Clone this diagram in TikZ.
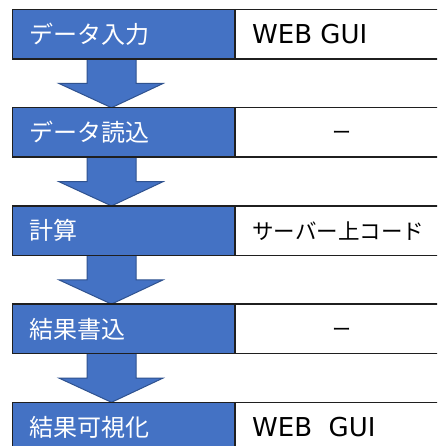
\documentclass[tikz,border=0pt]{standalone}
\usepackage{fontspec}
\setmainfont{Noto Sans CJK JP}
\newfontfamily\latinfont{DejaVu Sans}
\usetikzlibrary{calc,backgrounds}
\definecolor{boxblue}{HTML}{4472C4}
\definecolor{arrowline}{HTML}{2F528F}
\begin{document}
\begin{tikzpicture}[x=1pt,y=-1pt,
  cell/.style={draw=black!88, line width=1.5pt, minimum height=49.5pt, inner sep=0pt, outer sep=0pt, anchor=north west},
  bluecell/.style={cell, fill=boxblue, minimum width=222.3pt},
  whitecell/.style={cell, fill=white, minimum width=214pt},
  jtext/.style={font=\fontsize{24}{28}\selectfont, inner sep=0pt, anchor=base west},
  wtext/.style={jtext, text=white},
  ltext/.style={font=\latinfont\fontsize{26}{30}\selectfont, inner sep=0pt, anchor=base west},
  dashtext/.style={font=\fontsize{19}{22}\selectfont, inner sep=0pt, anchor=base},
  flowarrow/.style={fill=boxblue, draw=arrowline, line width=1pt, line join=miter}
]
\useasboundingbox (0,0) rectangle (437,446);
\clip (0,0) rectangle (437,446);

% left (blue) cells
\node[bluecell] (L1) at (12.7,9.5) {};
\node[bluecell] (L2) at (12.7,107.7) {};
\node[bluecell] (L3) at (12.7,205.9) {};
\node[bluecell] (L4) at (12.7,304.1) {};
\node[bluecell] (L5) at (12.7,402.3) {};

% right (white) cells
\node[whitecell] (R1) at (L1.north east) {};
\node[whitecell] (R2) at (L2.north east) {};
\node[whitecell] (R3) at (L3.north east) {};
\node[whitecell] (R4) at (L4.north east) {};
\node[whitecell] (R5) at (L5.north east) {};

% texts
\node[wtext] (t1) at ($(L1.west)+(16.3,9.3)$) {データ入力};
\node[wtext] (t2) at ($(L2.west)+(16.3,9.3)$) {データ読込};
\node[wtext] (t3) at ($(L3.west)+(16.3,9.3)$) {計算};
\node[wtext] (t4) at ($(L4.west)+(16.3,9.3)$) {結果書込};
\node[wtext] (t5) at ($(L5.west)+(16.3,9.3)$) {結果可視化};

\node[ltext] (u1) at ($(R1.west)+(17,9.5)$) {WEB GUI};
\node[dashtext] (u2) at ($(R2.center)+(0,7.3)$) {ー};
\node[jtext, font=\fontsize{21.5}{26}\selectfont] (u3) at ($(R3.west)+(17,8.4)$) {サーバー上コード};
\node[dashtext] (u4) at ($(R4.center)+(0,7.3)$) {ー};
\node[ltext] (u5) at ($(R5.west)+(17,9.5)$) {WEB\ \ GUI};

% arrows
\begin{scope}[on background layer]
\fill[white] (0,0) rectangle (437,446);
\foreach \a/\b in {L1/L2, L2/L3, L3/L4, L4/L5} {
  \filldraw[flowarrow]
    ($(\a.south west)+(74.3,0)$) -- ($(\a.south west)+(74.3,24.5)$)
    -- ($(\a.south west)+(46.3,24.5)$) -- ($(\b.north west)+(98.8,0)$)
    -- ($(\a.south west)+(150.3,24.5)$) -- ($(\a.south west)+(123.3,24.5)$)
    -- ($(\a.south west)+(123.3,0)$);
}
\end{scope}
\end{tikzpicture}
\end{document}
